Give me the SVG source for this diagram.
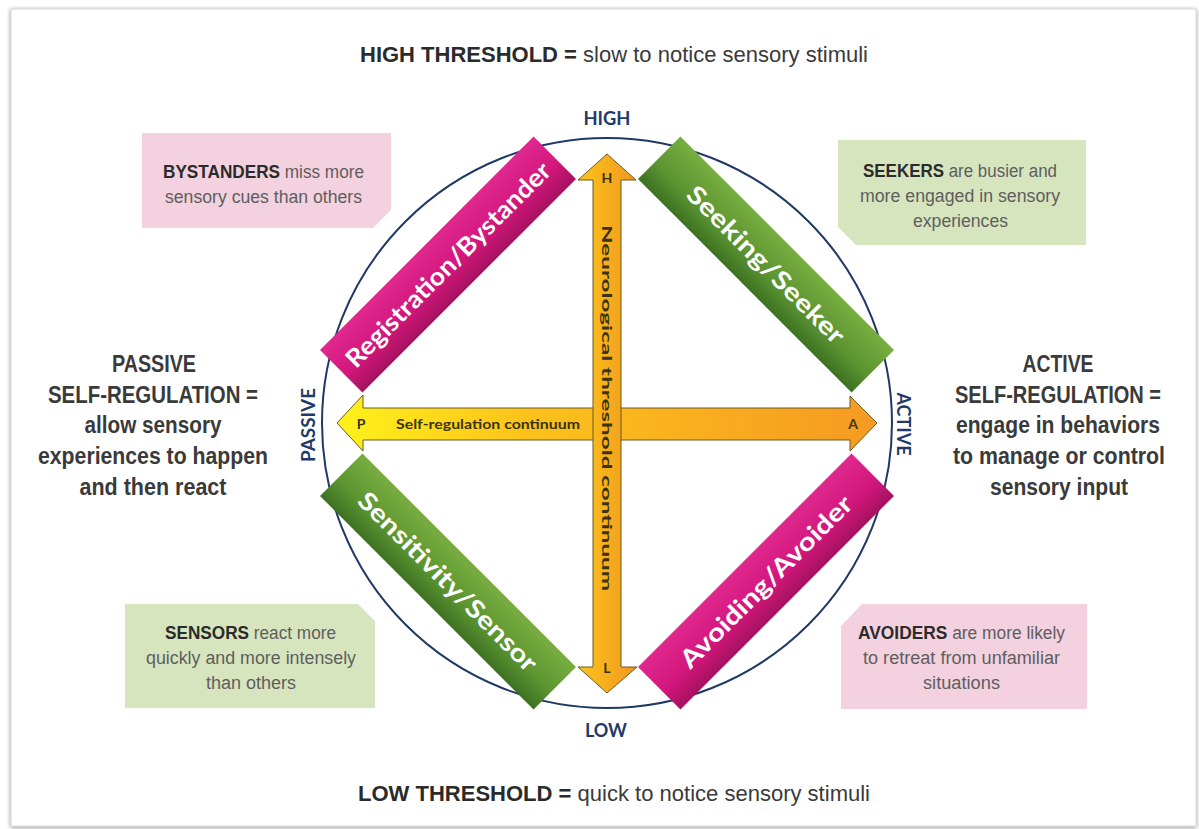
<svg xmlns="http://www.w3.org/2000/svg" width="1199" height="829" viewBox="0 0 1199 829">
<defs>
<filter id="frameShadow" x="-2%" y="-2%" width="104%" height="104%">
<feGaussianBlur in="SourceAlpha" stdDeviation="2"/>
<feOffset dx="0" dy="1"/>
<feComponentTransfer><feFuncA type="linear" slope="0.45"/></feComponentTransfer>
<feMerge><feMergeNode/><feMergeNode in="SourceGraphic"/></feMerge>
</filter>
<linearGradient id="pinkGrad" x1="0" y1="0" x2="0" y2="1">
<stop offset="0" stop-color="#e0288e"/>
<stop offset="0.6" stop-color="#d2167c"/>
<stop offset="1" stop-color="#a5125e"/>
</linearGradient>
<linearGradient id="greenGrad" x1="0" y1="0" x2="0" y2="1">
<stop offset="0" stop-color="#78ae40"/>
<stop offset="0.6" stop-color="#5c9431"/>
<stop offset="1" stop-color="#3d7122"/>
</linearGradient>
<linearGradient id="vGrad" x1="0" y1="0" x2="1" y2="0">
<stop offset="0" stop-color="#fbc51a"/>
<stop offset="1" stop-color="#f19620"/>
</linearGradient>
<linearGradient id="hGrad" x1="0" y1="0" x2="1" y2="0">
<stop offset="0" stop-color="#fff21a"/>
<stop offset="0.35" stop-color="#fcc21b"/>
<stop offset="1" stop-color="#f59a22"/>
</linearGradient>
<style>
.title{font-family:"Liberation Sans",Arial,sans-serif;font-size:22px;fill:#3a3a3a}
.side{font-family:"Liberation Sans",Arial,sans-serif;font-size:23px;font-weight:bold;fill:#3a3a3a;text-anchor:middle}
.box{font-family:"Liberation Sans",Arial,sans-serif;font-size:18px;fill:#5e5e5e}
.b{font-weight:bold;fill:#2b2b2b}
.pinkbox{fill:#f3d1de}
.greenbox{fill:#d7e5be}
.axis{font-family:Lato,"Open Sans",sans-serif;font-weight:bold;font-size:18px;fill:#1f3a6a;text-anchor:middle}
.bar{font-family:Lato,"Open Sans",sans-serif;font-weight:bold;font-size:25px;fill:#ffffff;text-anchor:middle}
.arrtxt{font-family:Lato,"Open Sans",sans-serif;font-weight:bold;font-size:14px;fill:#3a3410;text-anchor:middle}
.arrow{stroke:#6b5a22;stroke-width:1}
</style>
</defs>

<rect x="0" y="0" width="1199" height="829" fill="#ffffff"/>
<rect id="frame" x="11" y="9" width="1185" height="817" fill="#ffffff" stroke="#d6d6d6" stroke-width="1" filter="url(#frameShadow)"/>

<g id="title-high"><text class="title" x="360" y="62" textLength="508" lengthAdjust="spacingAndGlyphs"><tspan class="b">HIGH THRESHOLD =</tspan> slow to notice sensory stimuli</text></g>
<g id="title-low"><text class="title" x="358" y="801" textLength="512" lengthAdjust="spacingAndGlyphs"><tspan class="b">LOW THRESHOLD =</tspan> quick to notice sensory stimuli</text></g>

<g id="passive-text">
<text class="side" x="154" y="372" textLength="84" lengthAdjust="spacingAndGlyphs">PASSIVE</text>
<text class="side" x="153" y="403" textLength="210" lengthAdjust="spacingAndGlyphs">SELF-REGULATION =</text>
<text class="side" x="153" y="433" textLength="137" lengthAdjust="spacingAndGlyphs">allow sensory</text>
<text class="side" x="153" y="464" textLength="230" lengthAdjust="spacingAndGlyphs">experiences to happen</text>
<text class="side" x="153" y="495" textLength="147" lengthAdjust="spacingAndGlyphs">and then react</text>
</g>
<g id="active-text">
<text class="side" x="1058" y="372" textLength="71" lengthAdjust="spacingAndGlyphs">ACTIVE</text>
<text class="side" x="1058" y="403" textLength="206" lengthAdjust="spacingAndGlyphs">SELF-REGULATION =</text>
<text class="side" x="1058" y="433" textLength="204" lengthAdjust="spacingAndGlyphs">engage in behaviors</text>
<text class="side" x="1059" y="464" textLength="212" lengthAdjust="spacingAndGlyphs">to manage or control</text>
<text class="side" x="1059" y="495" textLength="138" lengthAdjust="spacingAndGlyphs">sensory input</text>
</g>

<g id="bystanders-box">
<path class="pinkbox" d="M142,133 H391 V210 L373,228 H142 Z"/>
<text class="box" x="163" y="178" textLength="201" lengthAdjust="spacingAndGlyphs"><tspan class="b">BYSTANDERS</tspan> miss more</text>
<text class="box" x="165" y="203" textLength="197" lengthAdjust="spacingAndGlyphs">sensory cues than others</text>
</g>
<g id="seekers-box">
<path class="greenbox" d="M838,140 H1086 V245 H856 L838,227 Z"/>
<text class="box" x="863" y="177" textLength="194" lengthAdjust="spacingAndGlyphs"><tspan class="b">SEEKERS</tspan> are busier and</text>
<text class="box" x="860" y="202" textLength="200" lengthAdjust="spacingAndGlyphs">more engaged in sensory</text>
<text class="box" x="913" y="227" textLength="95" lengthAdjust="spacingAndGlyphs">experiences</text>
</g>
<g id="sensors-box">
<path class="greenbox" d="M125,604 H358 L375,621 V708 H125 Z"/>
<text class="box" x="165" y="639" textLength="171" lengthAdjust="spacingAndGlyphs"><tspan class="b">SENSORS</tspan> react more</text>
<text class="box" x="146" y="664" textLength="210" lengthAdjust="spacingAndGlyphs">quickly and more intensely</text>
<text class="box" x="206" y="689" textLength="90" lengthAdjust="spacingAndGlyphs">than others</text>
</g>
<g id="avoiders-box">
<path class="pinkbox" d="M862,604 H1087 V709 H841 V626 Z"/>
<text class="box" x="858" y="639" textLength="207" lengthAdjust="spacingAndGlyphs"><tspan class="b">AVOIDERS</tspan> are more likely</text>
<text class="box" x="863" y="664" textLength="197" lengthAdjust="spacingAndGlyphs">to retreat from unfamiliar</text>
<text class="box" x="923" y="689" textLength="77" lengthAdjust="spacingAndGlyphs">situations</text>
</g>

<g id="circle"><circle cx="607" cy="423" r="285" fill="none" stroke="#1f3864" stroke-width="2"/></g>

<g id="axis-labels">
<text class="axis" x="607" y="125" textLength="47" lengthAdjust="spacingAndGlyphs">HIGH</text>
<text class="axis" x="606" y="737" textLength="42" lengthAdjust="spacingAndGlyphs">LOW</text>
<text class="axis" transform="translate(315,425) rotate(-90)" x="0" y="0" textLength="74" lengthAdjust="spacingAndGlyphs">PASSIVE</text>
<text class="axis" transform="translate(897,424) rotate(90)" x="0" y="0" textLength="63" lengthAdjust="spacingAndGlyphs">ACTIVE</text>
</g>

<g id="connectors">
<g id="self-regulation-arrow">
<polygon class="arrow" fill="url(#hGrad)" points="337,423 363,395 363,408 850,408 850,396 877,423 850,451 850,440 363,440 363,451"/>
<text class="arrtxt" x="361" y="429">P</text>
<text class="arrtxt" x="853" y="429">A</text>
<text class="arrtxt" x="488" y="429" textLength="184" lengthAdjust="spacingAndGlyphs">Self-regulation continuum</text>
</g>
<g id="threshold-arrow">
<polygon class="arrow" fill="url(#vGrad)" points="607,154 636,180 621,180 621,667 637,667 607,693 578,667 593,667 593,180 578,180"/>
<text class="arrtxt" x="607" y="183">H</text>
<text class="arrtxt" x="607" y="673">L</text>
<text class="arrtxt" transform="translate(607,408) rotate(90)" x="0" y="5" textLength="366" lengthAdjust="spacingAndGlyphs">Neurological threshold continuum</text>
</g>
</g>

<g id="registration-bar" transform="translate(448,264.5) rotate(-45)">
<rect x="-151" y="-30" width="302" height="60" fill="url(#pinkGrad)"/>
<text class="bar" x="0" y="9" textLength="278" lengthAdjust="spacingAndGlyphs">Registration/Bystander</text>
</g>
<g id="seeking-bar" transform="translate(766,264.5) rotate(45)">
<rect x="-151" y="-30" width="302" height="60" fill="url(#greenGrad)"/>
<text class="bar" x="0" y="9" textLength="212" lengthAdjust="spacingAndGlyphs">Seeking/Seeker</text>
</g>
<g id="sensitivity-bar" transform="translate(448,581.5) rotate(45)">
<rect x="-151" y="-30" width="302" height="60" fill="url(#greenGrad)"/>
<text class="bar" x="0" y="9" textLength="242" lengthAdjust="spacingAndGlyphs">Sensitivity/Sensor</text>
</g>
<g id="avoiding-bar" transform="translate(766,581.5) rotate(-45)">
<rect x="-151" y="-30" width="302" height="60" fill="url(#pinkGrad)"/>
<text class="bar" x="0" y="9" textLength="232" lengthAdjust="spacingAndGlyphs">Avoiding/Avoider</text>
</g>
</svg>
